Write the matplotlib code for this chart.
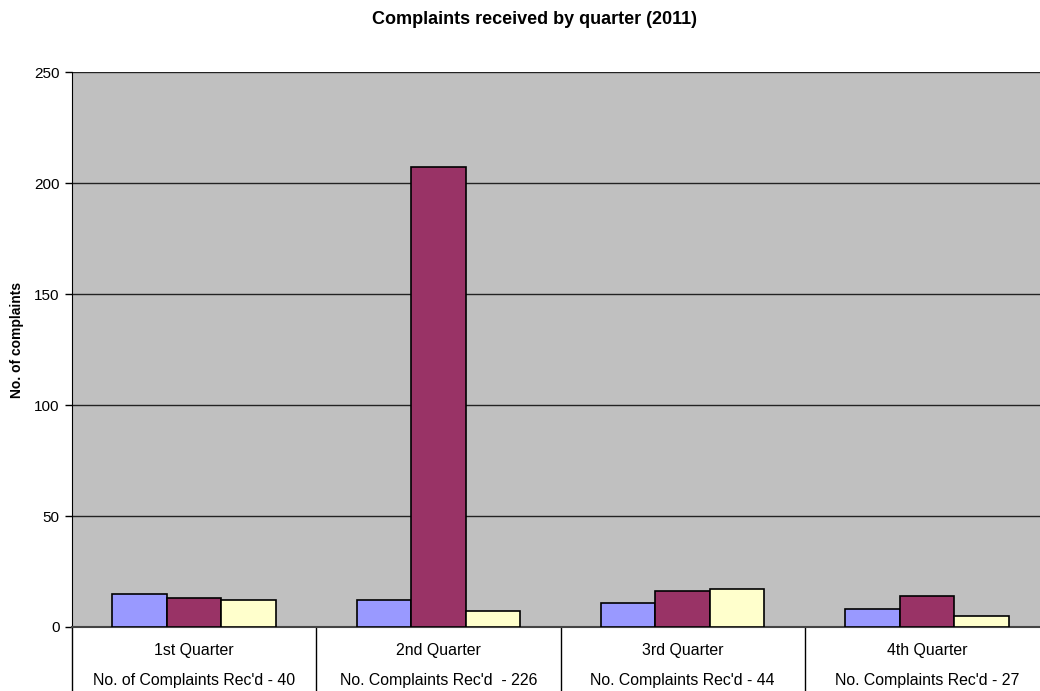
import matplotlib
matplotlib.use("Agg")
import matplotlib.pyplot as plt
import numpy as np
from matplotlib.transforms import blended_transform_factory

plt.rcParams['font.family'] = ['Liberation Sans', 'DejaVu Sans']

quarters = ["1st Quarter", "2nd Quarter", "3rd Quarter", "4th Quarter"]
totals_labels = ["No. of Complaints Rec'd - 40", "No. Complaints Rec'd  - 226",
                 "No. Complaints Rec'd - 44", "No. Complaints Rec'd - 27"]
series_a = [15, 12, 11, 8]
series_b = [13, 207, 16, 14]
series_c = [12, 7, 17, 5]
colors = ["#9999FF", "#993366", "#FFFFCC"]

W, H = 1040, 691
fig = plt.figure(figsize=(W / 100, H / 100), dpi=100)
left, right, top, bottom = 72, 1049, 72, 627
ax = fig.add_axes([left / W, 1 - bottom / H, (right - left) / W, (bottom - top) / H])
ax.set_facecolor("#C0C0C0")

x = np.arange(len(quarters))
bw = 0.223
for i, (vals, c) in enumerate(zip([series_a, series_b, series_c], colors)):
    ax.bar(x + (i - 1) * bw, vals, width=bw, color=c, edgecolor="black", linewidth=1.2, zorder=3)

ax.set_xlim(-0.5, len(quarters) - 0.5)
ax.set_ylim(0, 250)
ax.set_yticks(np.arange(0, 251, 50))
ax.yaxis.grid(True, color="#222222", linewidth=1, zorder=1)
ax.set_axisbelow(True)
ax.tick_params(axis="y", direction="out", length=5, width=1, labelsize=11, pad=4, colors="black")
ax.set_xticks([])
for s in ["top", "right"]:
    ax.spines[s].set_visible(False)
ax.spines["left"].set_color("black")
ax.spines["bottom"].set_color("#444444")
ax.spines["bottom"].set_linewidth(1.5)

trans = blended_transform_factory(ax.transData, ax.transAxes)
axh = (bottom - top)
for b in np.arange(-0.5, len(quarters) - 0.4, 1.0):
    ax.plot([b, b], [0, -(H - bottom) / axh], transform=trans, color="black", lw=1, clip_on=False)
for xi, q, t in zip(x, quarters, totals_labels):
    ax.text(xi, -(650 - bottom) / axh, q, transform=trans, ha="center", va="center", fontsize=11.4)
    ax.text(xi, -(681 - bottom) / axh, t, transform=trans, ha="center", va="center", fontsize=11.4)

fig.text(535 / W, 1 - 19 / H, "Complaints received by quarter (2011)", ha="center", va="center",
         fontsize=13, fontweight="bold")
fig.text(17 / W, 1 - 340 / H, "No. of complaints", ha="center", va="center", rotation=90,
         fontsize=10, fontweight="bold")

fig.savefig("out.png", dpi=100)
